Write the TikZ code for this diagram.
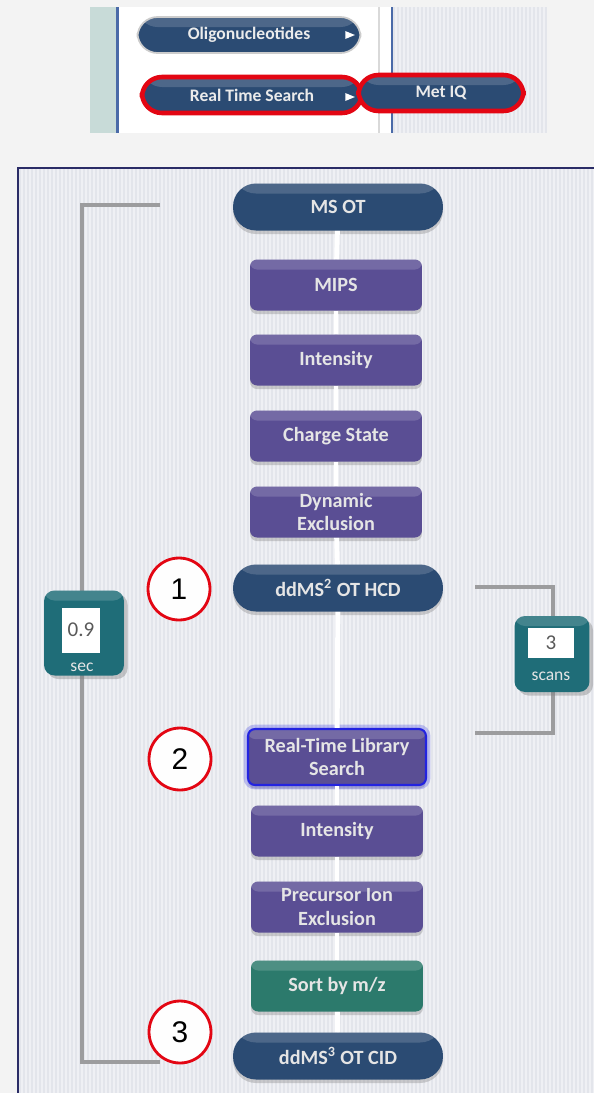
\documentclass[tikz,border=0pt]{standalone}
\usepackage{fontspec}
\setmainfont{Carlito}
\newfontfamily\numfont{Liberation Sans}
\usetikzlibrary{shadows,shapes.geometric}
\definecolor{navy}{HTML}{2B4B73}
\definecolor{violet}{HTML}{5A4E94}
\definecolor{sortgreen}{HTML}{2C7A6C}
\definecolor{badgeteal}{HTML}{1F6D78}
\definecolor{panelbg}{HTML}{E3E5EB}
\definecolor{pagebg}{HTML}{F3F3F3}
\definecolor{bracketgray}{HTML}{9C9C9E}
\definecolor{marker}{HTML}{E30613}
\definecolor{frame}{HTML}{2A2C66}
\definecolor{menustrip}{HTML}{C8DBD8}
\definecolor{menuline}{HTML}{4A6AA8}
\definecolor{glowblue}{HTML}{2323E0}
\begin{document}
\begin{tikzpicture}[x=0.02cm,y=-0.02cm,
    gloss/.style={path picture={\fill[white,opacity=0.16] (path picture bounding box.north west) rectangle ([yshift=-0.2cm]path picture bounding box.north east);}},
    shade/.style={drop shadow={opacity=0.35,shadow xshift=0pt,shadow yshift=-2pt}},
    pill/.style={rounded corners=0.46cm,fill=navy,minimum width=4.2cm,minimum height=0.94cm,
      text=white!90!black,font=\fontsize{11.5}{13.6}\selectfont\bfseries,shade,gloss},
    filterbox/.style={rounded corners=4pt,fill=violet,minimum width=3.44cm,minimum height=1.02cm,
      align=center,text=white!90!black,font=\fontsize{11.5}{13.6}\selectfont\bfseries,shade,gloss},
    menu/.style={rounded corners=0.4cm,fill=navy,minimum height=0.72cm,
      text=white!92!black,font=\fontsize{10}{12}\selectfont\bfseries,gloss},
    menuarrow/.style={isosceles triangle,fill=white,inner sep=0pt,minimum width=4.5pt,minimum height=3.5pt},
    marked/.style={draw=marker,line width=2.6pt},
    number/.style={circle,draw=marker,line width=1.6pt,fill=white!95!panelbg,minimum size=1.24cm,
      font=\numfont\fontsize{17}{17}\selectfont},
    badge/.style={rounded corners=6pt,fill=badgeteal,drop shadow={opacity=0.4,shadow xshift=2pt,shadow yshift=-2pt},gloss},
    valbox/.style={fill=white,inner sep=0pt,text=black!65,font=\fontsize{12}{14}\selectfont},
    unit/.style={text=white!90!black,font=\fontsize{10}{12}\selectfont},
    link/.style={draw=white,line width=2.8pt},
    bracket/.style={draw=bracketgray,line width=2.2pt},
    stripe/.style={draw=white,opacity=0.45,line width=0.6pt}]
    \useasboundingbox (0,0) rectangle (594,1093);
    \fill[pagebg] (0,0) rectangle (594,1093);

    \fill[menustrip] (90,7) rectangle (117,133);
    \fill[white] (117,7) rectangle (392,133);
    \fill[panelbg] (392,7) rectangle (547,133);
    \foreach \x in {396,400,...,546}
      \draw[stripe] (\x,7) -- (\x,133);
    \draw[menuline,line width=1.2pt] (117.5,7) -- (117.5,133);
    \draw[black!15,line width=1pt] (379,7) -- (379,133);
    \draw[menuline,line width=1.2pt] (392,7) -- (392,133);

    \node[menu,minimum width=4.46cm,draw=black!20,line width=1pt] (oligo) at (249,35) {Oligonucleotides};
    \node[menuarrow] (oligoarrow) at (348,35) {};
    \node[menu,minimum width=4.4cm,marked] (rts) at (252,95) {Real Time Search};
    \node[menuarrow] (rtsarrow) at (348,97) {};
    \node[menu,minimum width=3.3cm,marked] (metiq) at (441,93) {Met IQ};

    \fill[panelbg] (18,168) rectangle (594,1093);
    \foreach \x in {22,26,...,594}
      \draw[stripe] (\x,169) -- (\x,1093);
    \draw[frame,line width=1.4pt] (18,1093) -- (18,168) -- (594,168);

    \draw[bracket] (160,205) -- (82,205) -- (82,1062) -- (160,1062);
    \draw[bracket] (475,587) -- (553,587) -- (553,733) -- (475,733);

    \node[pill] (msot) at (338,207) {MS OT};
    \node[filterbox] (mips) at (336,285) {MIPS};
    \node[filterbox] (int1) at (336,360) {Intensity};
    \node[filterbox] (charge) at (336,436) {Charge State};
    \node[filterbox] (dynexc) at (336,512) {Dynamic\\Exclusion};
    \node[pill] (hcd) at (338,588) {ddMS\textsuperscript{2} OT HCD};
    \node[filterbox,minimum width=3.56cm,minimum height=1.12cm,draw=glowblue,line width=1.2pt,
      preaction={draw=glowblue,line width=5pt,opacity=0.25}] (rtls) at (337,757) {Real-Time Library\\Search};
    \node[filterbox] (int2) at (337,831) {Intensity};
    \node[filterbox] (precexc) at (337,907) {Precursor Ion\\Exclusion};
    \node[filterbox,fill=sortgreen] (sortmz) at (337,986) {Sort by m/z};
    \node[pill] (cid) at (338,1056) {ddMS\textsuperscript{3} OT CID};

    \draw[link] (msot) -- (mips);
    \draw[link] (mips) -- (int1);
    \draw[link] (int1) -- (charge);
    \draw[link] (charge) -- (dynexc);
    \draw[link] (dynexc) -- (hcd);
    \draw[link] (hcd) -- (rtls);
    \draw[link] (rtls) -- (int2);
    \draw[link] (int2) -- (precexc);
    \draw[link] (precexc) -- (sortmz);
    \draw[link] (sortmz) -- (cid);

    \node[number] (one) at (179,589) {1};
    \node[number] (two) at (180,759) {2};
    \node[number] (three) at (180,1032) {3};

    \node[badge,minimum width=1.6cm,minimum height=1.7cm] (secbadge) at (84,633) {};
    \node[valbox,minimum width=0.76cm,minimum height=0.9cm] (secval) at (81,630) {0.9};
    \node[unit] (secunit) at (82,667) {sec};
    \node[badge,minimum width=1.5cm,minimum height=1.52cm] (scanbadge) at (552,654) {};
    \node[valbox,minimum width=0.94cm,minimum height=0.6cm] (scanval) at (551,643) {3};
    \node[unit] (scanunit) at (551,676) {scans};
  \end{tikzpicture}
\end{document}
